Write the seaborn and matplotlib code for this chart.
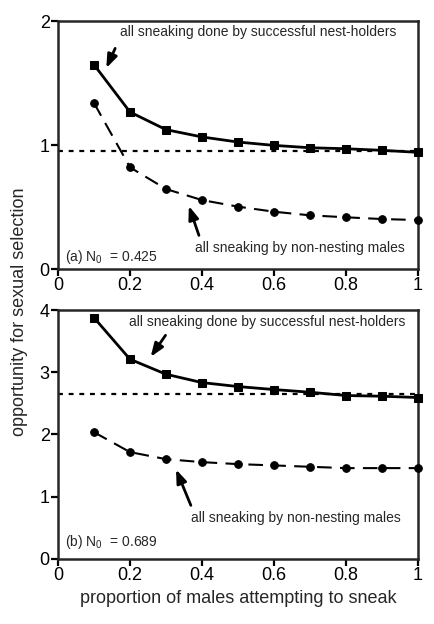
import numpy as np
import pandas as pd
import seaborn as sns
import matplotlib
matplotlib.use("Agg")
import matplotlib.pyplot as plt

# Data
prop = [0.1, 0.2, 0.3, 0.4, 0.5, 0.6, 0.7, 0.8, 0.9, 1.0]

# panel (a) N0 = 0.425
a_nest = [1.648, 1.266, 1.124, 1.065, 1.024, 0.997, 0.978, 0.970, 0.957, 0.941]
a_nonnest = [1.339, 0.820, 0.645, 0.556, 0.503, 0.462, 0.433, 0.417, 0.403, 0.395]
a_ref = 0.949

# panel (b) N0 = 0.689
b_nest = [3.877, 3.209, 2.968, 2.834, 2.770, 2.722, 2.679, 2.626, 2.615, 2.594]
b_nonnest = [2.037, 1.717, 1.604, 1.556, 1.524, 1.503, 1.481, 1.460, 1.460, 1.460]
b_ref = 2.652

label_nest = "all sneaking done by successful nest-holders"
label_non = "all sneaking by non-nesting males"

sns.set_style("ticks")
plt.rcParams['font.family'] = ['Liberation Sans', 'DejaVu Sans']

fig = plt.figure(figsize=(4.35, 6.24), dpi=100)
ax_a = fig.add_axes([0.1333, 0.5689, 0.8276, 0.3974])
ax_b = fig.add_axes([0.1333, 0.1042, 0.8276, 0.3990])


def draw_panel(ax, nest, nonnest, ref, ymax, yticks, tag, n0,
               txt1, arr1, txt2, arr2):
    df = pd.DataFrame({"p": prop, "nest": nest, "non": nonnest})
    sns.lineplot(data=df, x="p", y="nest", ax=ax, color="black", marker="s",
                 markersize=5.5, markeredgecolor="black", linewidth=2,
                 clip_on=False, zorder=3)
    sns.lineplot(data=df, x="p", y="non", ax=ax, color="black", marker="o",
                 markersize=5.5, markeredgecolor="black", linewidth=1.5,
                 linestyle=(0, (7, 4)), clip_on=False, zorder=3)
    ax.axhline(ref, color="black", linewidth=1.6, linestyle=(0, (2.2, 2.6)))
    ax.set_xlim(0, 1)
    ax.set_ylim(0, ymax)
    ax.set_xticks([0, 0.2, 0.4, 0.6, 0.8, 1])
    ax.set_xticklabels(["0", "0.2", "0.4", "0.6", "0.8", "1"])
    ax.set_yticks(yticks)
    ax.set_yticklabels([str(t) for t in yticks])
    ax.set_xlabel("")
    ax.set_ylabel("")
    for s in ax.spines.values():
        s.set_visible(True)
        s.set_linewidth(1.8)
    ax.tick_params(axis="both", direction="out", length=5, width=1.6,
                   labelsize=13, pad=1, colors="black")
    ax.text(0.02, n0[1], tag, fontsize=10, va="center", ha="left")
    ax.text(txt1[0], txt1[1], label_nest, fontsize=10, ha="center", va="center")
    ax.text(txt2[0], txt2[1], label_non, fontsize=10, ha="center", va="center")
    for head, tail in (arr1, arr2):
        ax.annotate("", xy=head, xytext=tail,
                    arrowprops=dict(arrowstyle="-|>,head_length=0.8,head_width=0.3",
                                    color="black", lw=2))


draw_panel(ax_a, a_nest, a_nonnest, a_ref, 2, [0, 1, 2],
           "(a) N$_{\\mathregular{0}}$  = 0.425", (0, 0.1),
           (0.556, 1.91), ((0.131, 1.60), (0.162, 1.80)),
           (0.672, 0.17), ((0.361, 0.53), (0.394, 0.25)))
draw_panel(ax_b, b_nest, b_nonnest, b_ref, 4, [0, 1, 2, 3, 4],
           "(b) N$_{\\mathregular{0}}$  = 0.689", (0, 0.27),
           (0.58, 3.81), ((0.253, 3.21), (0.303, 3.63)),
           (0.662, 0.66), ((0.325, 1.48), (0.372, 0.82)))

ax_b.set_xlabel("proportion of males attempting to sneak", fontsize=13, labelpad=4)
fig.text(0.045, 0.5, "opportunity for sexual selection", rotation=90,
         fontsize=13, ha="center", va="center")

fig.savefig("out.png", dpi=100)
